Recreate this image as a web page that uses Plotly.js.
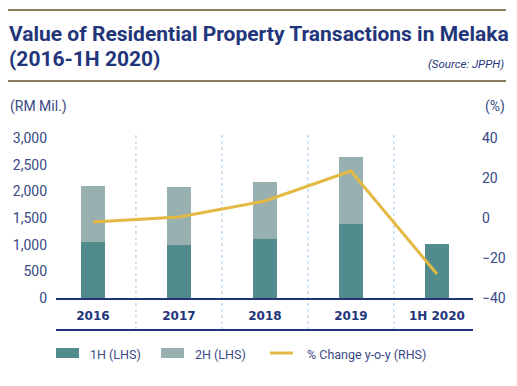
<!DOCTYPE html>
<html><head><meta charset="utf-8">
<script src="https://cdn.plot.ly/plotly-3.0.1.min.js"></script>
<style>html,body{margin:0;padding:0;background:#fff}#wrap{position:relative;width:517px;height:386px}#chart{width:517px;height:386px}#toprule{position:absolute;left:8px;top:9px;width:498px;height:2px;background:#8c7b5c;z-index:5}</style>
</head><body><div id="wrap"><div id="chart"></div><div id="toprule"></div></div>
<script>
const categories = ["2016", "2017", "2018", "2019", "1H 2020"];
const firstHalf = [1050, 995, 1105, 1390, 1010];
const secondHalf = [1050, 1085, 1070, 1255, null];
const pctChange = [-2, 0.5, 8.5, 23.5, -28];
const leftTicks = [0, 500, 1000, 1500, 2000, 2500, 3000];
const rightTicks = [-40, -20, 0, 20, 40];
const seriesNames = ["1H (LHS)", "2H (LHS)", "% Change y-o-y (RHS)"];
const seriesColors = ["#528b8b", "#98b0b0", "#e3b944"];

const navy = "#22357a";
const tickColor = "#3a4a86";
const rule = "#8c7b5c";
const fontFam = "Roboto, 'Liberation Sans', sans-serif";

// pixel helpers for paper coordinates (plot area: x 56..473, y 138..298)
const PL = 56, PW = 417, PT = 138, PH = 160;
const px = v => (v - PL) / PW;
const py = v => (PT + PH - v) / PH;

const traces = [
  {type: "bar", name: seriesNames[0], x: categories, y: firstHalf, marker: {color: seriesColors[0]}, width: 0.27},
  {type: "bar", name: seriesNames[1], x: categories, y: secondHalf, marker: {color: seriesColors[1]}, width: 0.27},
  {type: "scatter", mode: "lines", name: seriesNames[2], x: categories, y: pctChange, yaxis: "y2",
   line: {color: seriesColors[2], width: 3}}
];

const shapes = [
  {type: "line", xref: "paper", yref: "paper", x0: px(8), x1: px(506), y0: py(10), y1: py(10), line: {color: rule, width: 2}},
  {type: "line", xref: "paper", yref: "paper", x0: px(8), x1: px(506), y0: py(81), y1: py(81), line: {color: rule, width: 2}},
  {type: "line", xref: "paper", yref: "paper", x0: 0, x1: 1, y0: py(330), y1: py(330), line: {color: navy, width: 2}},
  // legend swatches
  {type: "rect", xref: "paper", yref: "paper", x0: px(56), x1: px(79), y0: py(348), y1: py(358), fillcolor: seriesColors[0], line: {width: 0}},
  {type: "rect", xref: "paper", yref: "paper", x0: px(161), x1: px(184), y0: py(348), y1: py(358), fillcolor: seriesColors[1], line: {width: 0}},
  {type: "line", xref: "paper", yref: "paper", x0: px(270), x1: px(293), y0: py(353), y1: py(353), line: {color: seriesColors[2], width: 3}}
];
for (let i = 0; i < categories.length - 1; i++) {
  shapes.push({type: "line", xref: "x", yref: "paper", x0: i + 0.5, x1: i + 0.5, y0: py(330), y1: py(132),
    line: {color: "#a6c8e4", width: 1, dash: "dot"}, layer: "below"});
}

const ann = (text, x, y, xanchor, size, color) => ({text, xref: "paper", yref: "paper",
  x: px(x), y: py(y), xanchor, yanchor: "middle", showarrow: false, font: {size, color, family: fontFam}});

const annotations = [
  ann("<b>Value of Residential Property Transactions in Melaka</b>", 7, 34, "left", 21, navy),
  ann("<b>(2016-1H 2020)</b>", 7, 59, "left", 21, navy),
  ann("<i>(Source: JPPH)</i>", 506, 64, "right", 11.5, navy),
  ann("(RM Mil.)", 8, 106, "left", 14, tickColor),
  ann("(%)", 483, 106, "left", 14, tickColor),
  ann(seriesNames[0], 88, 354, "left", 12.5, tickColor),
  ann(seriesNames[1], 193, 354, "left", 12.5, tickColor),
  ann(seriesNames[2], 305, 354, "left", 12.5, tickColor)
];

const layout = {
  width: 517, height: 386,
  margin: {l: PL, r: 517 - PL - PW, t: PT, b: 386 - PT - PH},
  paper_bgcolor: "#fff", plot_bgcolor: "#fff",
  barmode: "stack",
  showlegend: false,
  font: {family: fontFam, color: tickColor},
  xaxis: {type: "category", range: [-0.43, 4.42], showgrid: false, zeroline: false,
    showline: true, linecolor: navy, linewidth: 2, ticks: "",
    tickfont: {size: 12, color: navy, family: "'DejaVu Sans', sans-serif", weight: "bold"},
    ticklabelstandoff: 6, fixedrange: true},
  yaxis: {range: [0, 3000], tickvals: leftTicks, tickformat: ",d", showgrid: false, zeroline: false,
    showline: false, ticks: "", tickfont: {size: 14, color: tickColor}, ticklabelstandoff: 8},
  yaxis2: {range: [-40, 40], tickvals: rightTicks, overlaying: "y", side: "right", showgrid: false,
    zeroline: false, showline: false, ticks: "", tickfont: {size: 14, color: tickColor}, ticklabelstandoff: 8},
  shapes: shapes,
  annotations: annotations
};

Plotly.newPlot("chart", traces, layout, {displayModeBar: false, staticPlot: true});
</script></body></html>
